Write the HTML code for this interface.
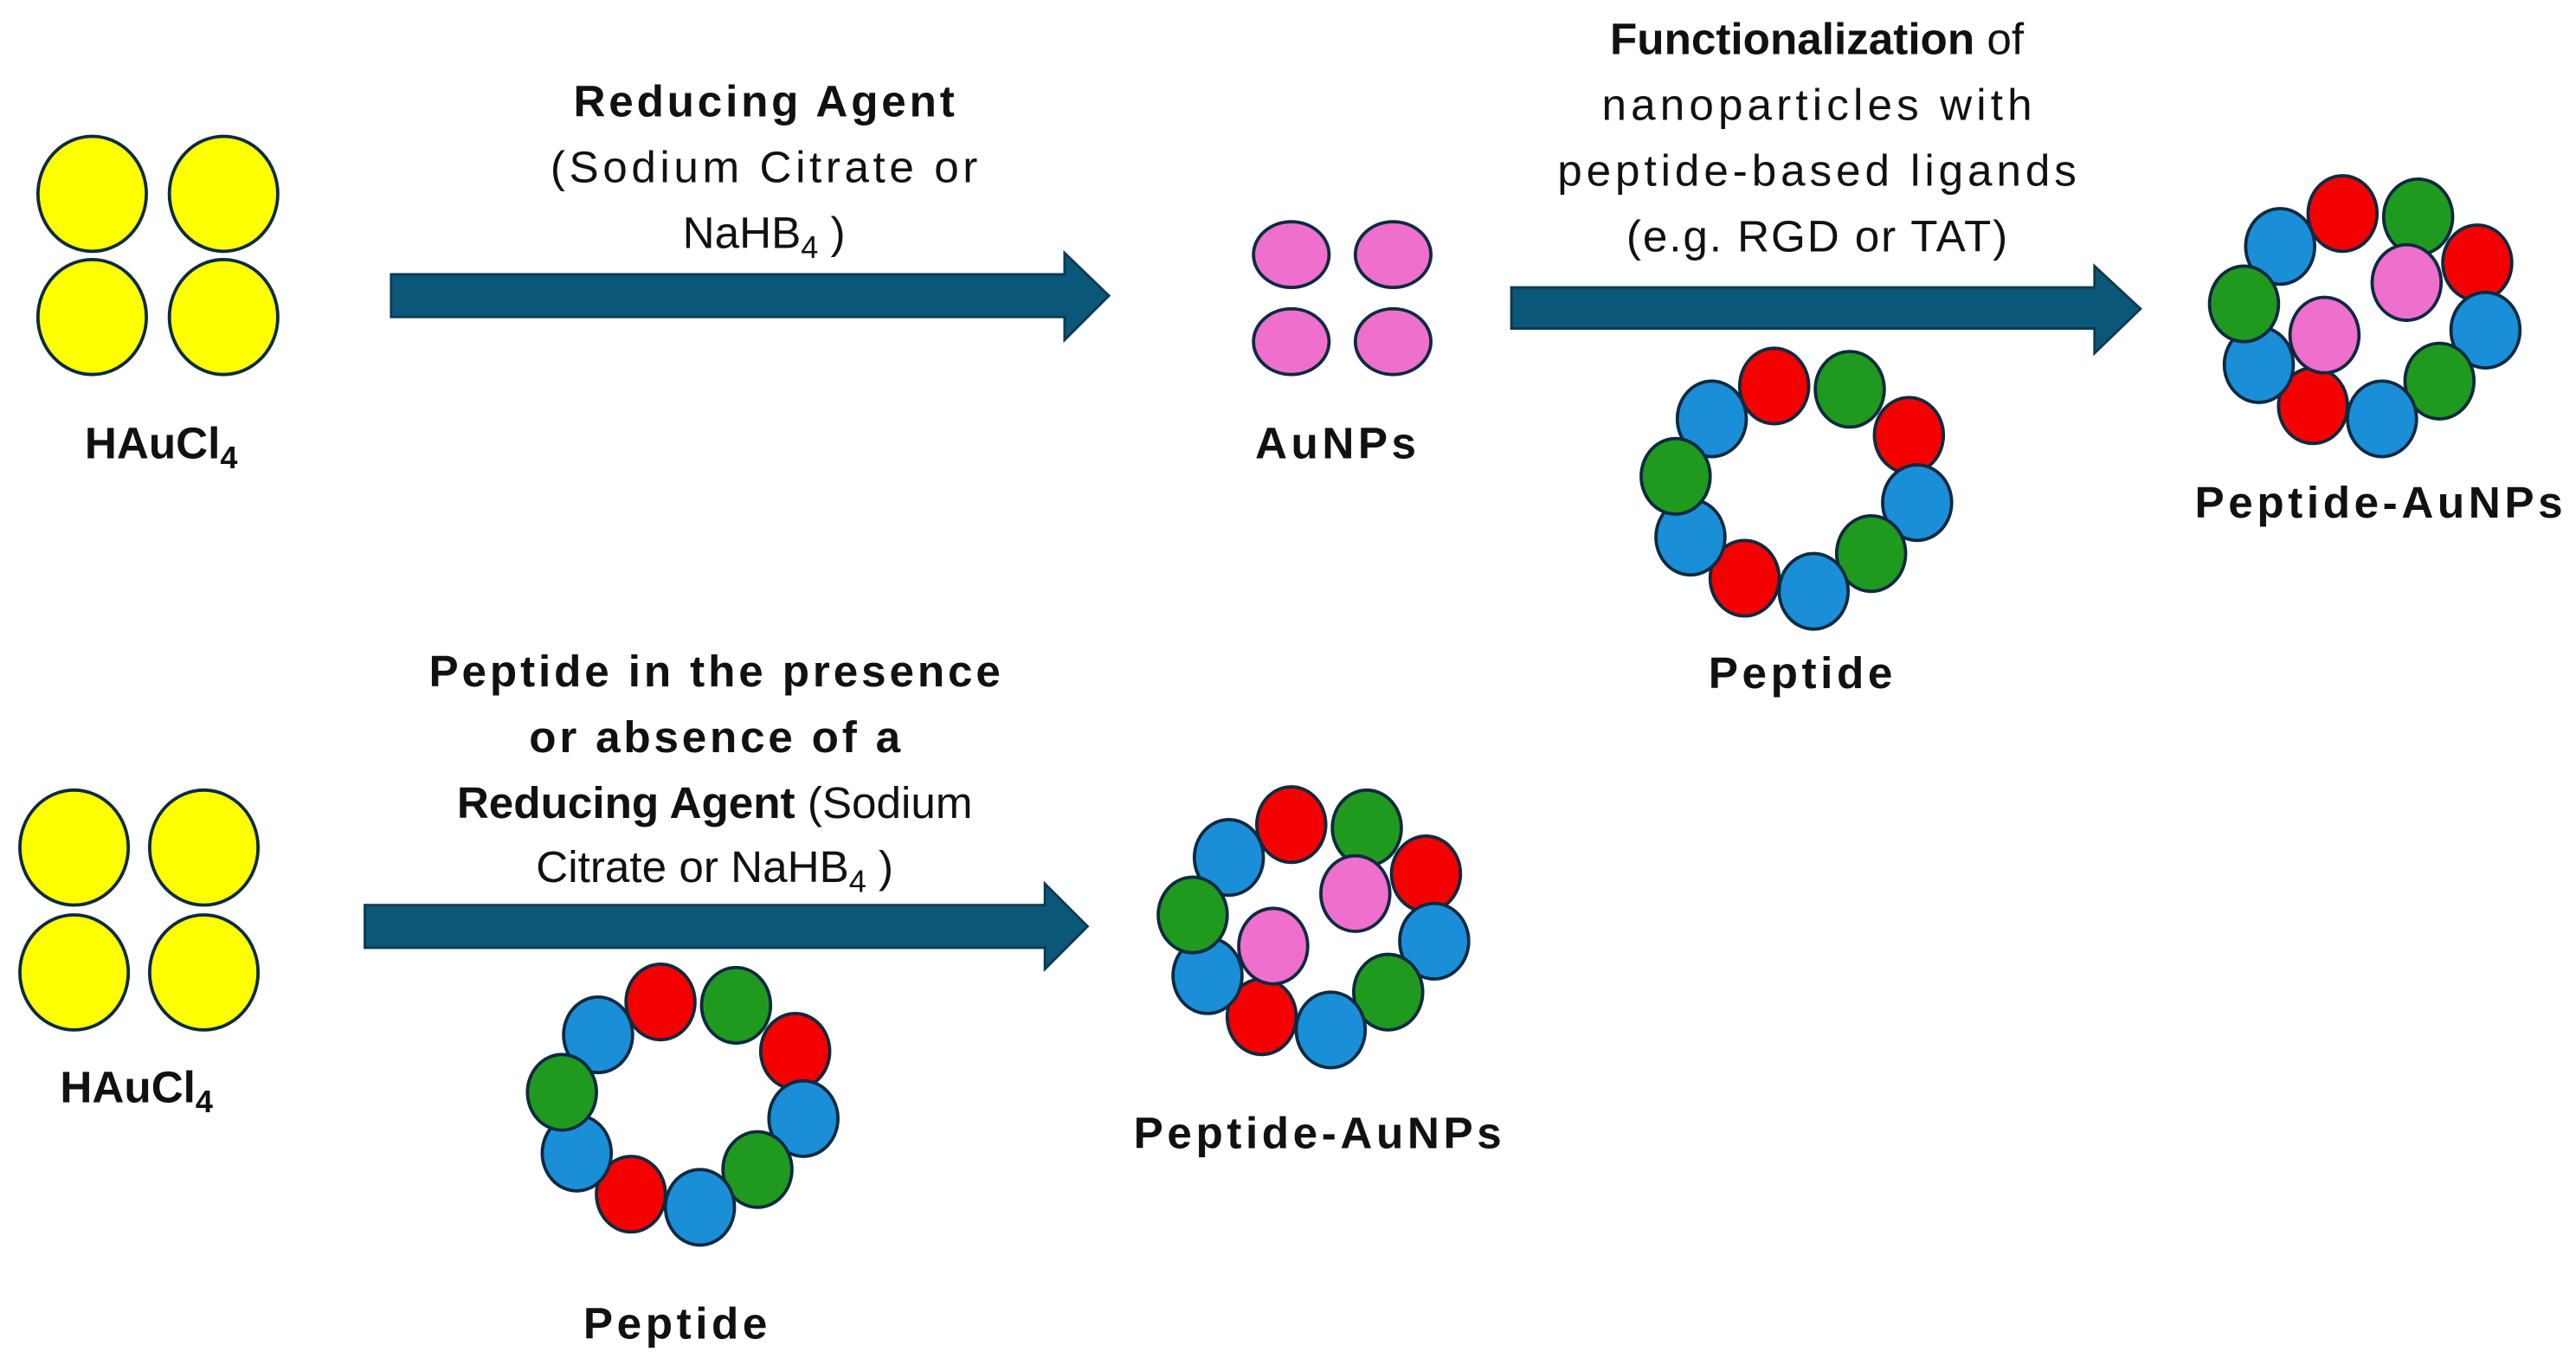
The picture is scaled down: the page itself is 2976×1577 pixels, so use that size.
<!DOCTYPE html>
<html><head><meta charset="utf-8"><style>
html,body{margin:0;padding:0;background:#fff;}
svg{display:block;}
text{font-family:"Liberation Sans",Arial,sans-serif;fill:#111;}
.b{font-weight:bold;}
</style></head><body>
<svg width="2976" height="1577" viewBox="0 0 1568 831" xmlns="http://www.w3.org/2000/svg" xmlns:xlink="http://www.w3.org/1999/xlink">
<defs>
<g id="ring">
<ellipse cx="-54" cy="-50" rx="21" ry="23" fill="#1a8fd8"/>
<ellipse cx="-16" cy="-70" rx="21" ry="23" fill="#f50000"/>
<ellipse cx="30" cy="-68" rx="21" ry="23" fill="#1f9a1f"/>
<ellipse cx="66" cy="-40" rx="21" ry="23" fill="#f50000"/>
<ellipse cx="71" cy="1" rx="21" ry="23" fill="#1a8fd8"/>
<ellipse cx="43" cy="32" rx="21" ry="23" fill="#1f9a1f"/>
<ellipse cx="8" cy="55" rx="21" ry="23" fill="#1a8fd8"/>
<ellipse cx="-34" cy="47" rx="21" ry="23" fill="#f50000"/>
<ellipse cx="-67" cy="22" rx="21" ry="23" fill="#1a8fd8"/>
<ellipse cx="-76" cy="-15" rx="21" ry="23" fill="#1f9a1f"/>
</g>
<g id="cplx">
<use xlink:href="#ring"/>
<ellipse cx="23" cy="-28" rx="21" ry="23" fill="#ee6fcc"/>
<ellipse cx="-27" cy="4" rx="21" ry="23" fill="#ee6fcc"/>
</g>
</defs>
<g stroke="#0d2a40" stroke-width="2">
<ellipse cx="56" cy="118" rx="33" ry="35" fill="#ffff00"/>
<ellipse cx="136" cy="118" rx="33" ry="35" fill="#ffff00"/>
<ellipse cx="56" cy="193" rx="33" ry="35" fill="#ffff00"/>
<ellipse cx="136" cy="193" rx="33" ry="35" fill="#ffff00"/>
<ellipse cx="45" cy="516" rx="33" ry="35" fill="#ffff00"/>
<ellipse cx="124" cy="516" rx="33" ry="35" fill="#ffff00"/>
<ellipse cx="45" cy="592" rx="33" ry="35" fill="#ffff00"/>
<ellipse cx="124" cy="592" rx="33" ry="35" fill="#ffff00"/>
<ellipse cx="786" cy="155" rx="23" ry="20" fill="#ee6fcc"/>
<ellipse cx="848" cy="155" rx="23" ry="20" fill="#ee6fcc"/>
<ellipse cx="786" cy="208" rx="23" ry="20" fill="#ee6fcc"/>
<ellipse cx="848" cy="208" rx="23" ry="20" fill="#ee6fcc"/>
<use xlink:href="#ring" x="1096" y="305"/>
<use xlink:href="#cplx" x="1442" y="200"/>
<use xlink:href="#ring" x="418" y="680"/>
<use xlink:href="#cplx" x="802" y="572"/>
</g>
<g fill="#0b5779" stroke="#0a3b52" stroke-width="1.5">
<polygon points="238,167 648,167 648,154 675,180 648,207 648,193 238,193"/>
<polygon points="920,175 1275,175 1275,162 1303,188 1275,215 1275,200 920,200"/>
<polygon points="222,551 636,551 636,538 662,564 636,590 636,577 222,577"/>
</g>
<g font-size="27" text-anchor="middle">
<text x="98" y="279" class="b">HAuCl<tspan font-size="19" dy="6">4</tspan></text>
<text x="83" y="671" class="b">HAuCl<tspan font-size="19" dy="6">4</tspan></text>
<text x="465" y="71" class="b" textLength="232">Reducing Agent</text>
<text x="465" y="111" textLength="260">(Sodium Citrate or</text>
<text x="465" y="151">NaHB<tspan font-size="19" dy="6">4</tspan><tspan dy="-6"> )</tspan></text>
<text x="813" y="279" class="b" textLength="98">AuNPs</text>
<text x="1106" y="33"><tspan class="b">Functionalization</tspan> of</text>
<text x="1106" y="73" textLength="262">nanoparticles with</text>
<text x="1106" y="113" textLength="316">peptide-based ligands</text>
<text x="1106" y="153" textLength="232">(e.g. RGD or TAT)</text>
<text x="1096" y="419" class="b" textLength="112">Peptide</text>
<text x="1448" y="315" class="b" textLength="224">Peptide-AuNPs</text>
<text x="435" y="418" class="b" textLength="348">Peptide in the presence</text>
<text x="435" y="458" class="b" textLength="226">or absence of a</text>
<text x="435" y="498"><tspan class="b">Reducing Agent</tspan> (Sodium</text>
<text x="435" y="537">Citrate or NaHB<tspan font-size="19" dy="6">4</tspan><tspan dy="-6"> )</tspan></text>
<text x="411" y="815" class="b" textLength="112">Peptide</text>
<text x="802" y="699" class="b" textLength="224">Peptide-AuNPs</text>
</g>
</svg>
</body></html>
